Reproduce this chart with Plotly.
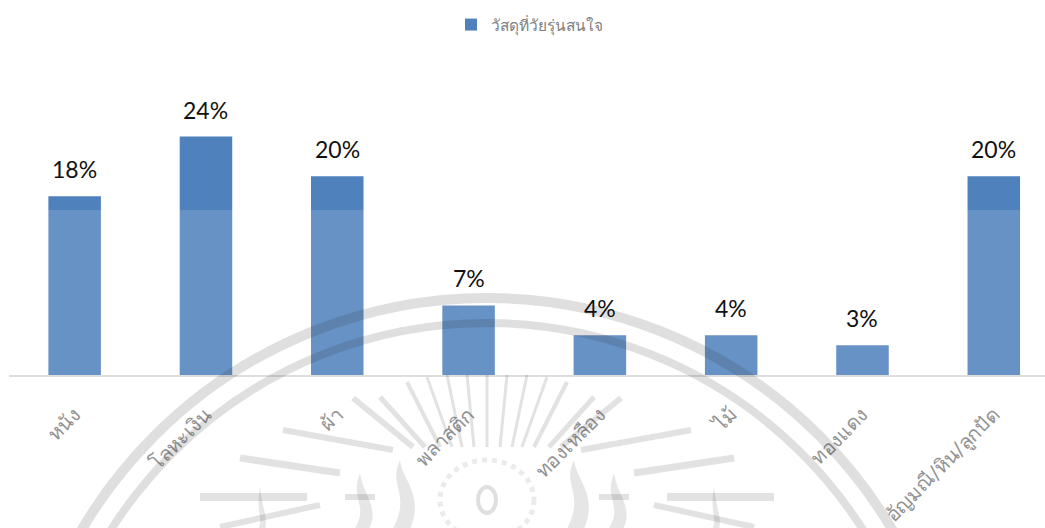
import plotly.graph_objects as go

categories = ["หนัง", "โลหะเงิน", "ผ้า", "พลาสติก", "ทองเหลือง", "ไม้", "ทองแดง", "อัญมณี/หิน/ลูกปัด"]
values = [0.18, 0.24, 0.20, 0.07, 0.04, 0.04, 0.03, 0.20]
series_name = "วัสดุที่วัยรุ่นสนใจ"

W, H = 1045, 528
L, T, B = 9, 77, 153
PW, PH = W - L, H - T - B
BAR = "#4f81bd"
WM = "rgba(40,40,40,0.15)"
RAY = "rgba(60,60,60,0.15)"
CX = 487


def px(x):
    return (x - L) / PW


def py(y):
    return 1 - (y - T) / PH


def paper(**kw):
    return dict(xref="paper", yref="paper", layer="above", **kw)


fig = go.Figure()
fig.add_bar(x=categories, y=values, name=series_name, marker=dict(color=BAR, line=dict(width=0)),
            width=0.4, showlegend=True)

annotations = [
    dict(x=c, y=v, xref="x", yref="y", text=f"{v:.0%}", showarrow=False, yanchor="bottom", yshift=11,
         font=dict(family="Lato, Carlito, sans-serif", size=23, color="#111111"))
    for c, v in zip(categories, values)
]

shapes = [paper(type="rect", x0=px(0), x1=px(W), y0=py(210), y1=py(H),
                fillcolor="rgba(255,255,255,0.14)", line=dict(width=0))]
# background emblem: two arcs
for r, lw in [(470, 10), (445, 8)]:
    shapes.append(paper(type="circle", x0=px(CX - r), x1=px(CX + r), y0=py(768 + r), y1=py(768 - r),
                        line=dict(color=WM, width=lw)))
# background emblem: rays (left side, mirrored about CX)
rays = [(380, 397, 425, 447, 5), (407, 382, 440, 447, 4), (427, 377, 452, 447, 3), (447, 375, 462, 447, 3),
        (467, 375, 474, 447, 3), (353, 398, 413, 447, 6), (283, 430, 393, 450, 6), (240, 458, 340, 473, 7),
        (200, 497, 307, 497, 8), (345, 497, 375, 497, 6), (220, 527, 320, 505, 6)]
shapes.append(paper(type="line", x0=px(CX), x1=px(CX), y0=py(375), y1=py(447), line=dict(color=RAY, width=3)))
for x0, y0, x1, y1, lw in rays:
    for sign in (-1, 1):
        a0 = CX + sign * (CX - x0)
        a1 = CX + sign * (CX - x1)
        shapes.append(paper(type="line", x0=px(a0), x1=px(a1), y0=py(y0), y1=py(y1),
                            line=dict(color=RAY, width=lw)))
# background emblem: lamp and flames
shapes.append(paper(type="circle", x0=px(CX - 9), x1=px(CX + 9), y0=py(513), y1=py(487),
                    line=dict(color=WM, width=4)))
shapes.append(paper(type="circle", x0=px(CX - 47), x1=px(CX + 47), y0=py(540), y1=py(460),
                    line=dict(color="rgba(60,60,60,0.10)", width=5, dash="dot")))
flames = [(400, 460, 26), (360, 473, 22), (260, 487, 10)]
for fx, fy, fw in flames:
    for sign in (-1, 1):
        a = CX + sign * (CX - fx)
        p = (f"M {px(a):.4f},{py(fy):.4f} "
             f"C {px(a - fw / 2):.4f},{py(fy + 28):.4f} {px(a + fw / 2):.4f},{py(fy + 32):.4f} "
             f"{px(a - fw / 3):.4f},{py(H + 4):.4f} "
             f"L {px(a + fw / 3):.4f},{py(H + 4):.4f} "
             f"C {px(a + fw):.4f},{py(fy + 36):.4f} {px(a + 2):.4f},{py(fy + 20):.4f} {px(a):.4f},{py(fy):.4f} Z")
        shapes.append(paper(type="path", path=p, fillcolor="rgba(60,60,60,0.13)", line=dict(width=0)))

fig.update_layout(
    width=W, height=H, autosize=False, bargap=0.6,
    margin=dict(l=L, r=0, t=T, b=B),
    paper_bgcolor="white", plot_bgcolor="rgba(0,0,0,0)",
    showlegend=True,
    legend=dict(orientation="h", x=px(451), xanchor="left", y=py(8), yanchor="top",
                font=dict(family="DejaVu Sans, Noto Sans, sans-serif", size=15.5, color="#7f7f7f"),
                bgcolor="rgba(0,0,0,0)"),
    xaxis=dict(type="category", range=[-0.5, 7.39], tickangle=-45, showgrid=False,
               showline=True, linecolor="#d9d9d9", linewidth=2, ticks="", ticklabelstandoff=18,
               tickfont=dict(family="DejaVu Sans, Noto Sans, sans-serif", size=20, color="#808080")),
    yaxis=dict(range=[0, 0.30], visible=False, showgrid=False, zeroline=False),
    annotations=annotations, shapes=shapes,
)
fig.write_html("out.html", config={"displayModeBar": False},
               post_script="document.body.style.margin='0';document.body.style.overflow='hidden';")
